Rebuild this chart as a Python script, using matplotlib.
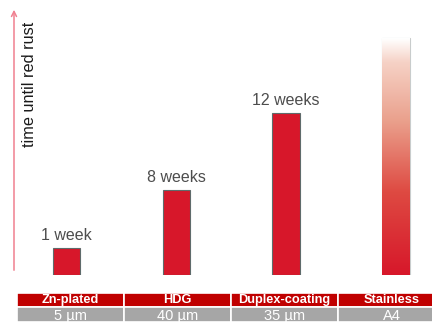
import numpy as np
import matplotlib.pyplot as plt
from matplotlib.patches import Rectangle
from matplotlib.colors import LinearSegmentedColormap

plt.rcParams['font.family'] = ['Liberation Sans', 'DejaVu Sans']

materials = ["Zn-plated", "HDG", "Duplex-coating", "Stainless"]
thickness = ["5 \u00b5m", "40 \u00b5m", "35 \u00b5m", "A4"]
bar_labels = ["1 week", "8 weeks", "12 weeks", ""]
# relative bar heights as drawn (not to scale with weeks)
heights = [27, 85, 162, 237]

red = "#D7172A"
header_red = "#C00000"
row_gray = "#A6A6A6"
text_gray = "#4D4D4D"

fig = plt.figure(figsize=(4.32, 3.22), dpi=100)
W, H = 432, 322

# bar area: baseline 47 px above the bottom edge
ax = fig.add_axes([0, 47 / H, 1, 1 - 47 / H])
ax.axis("off")

x = np.arange(len(materials))
ax.bar(x[:3], heights[:3], width=0.25, color=red, edgecolor="#5F6B6B", linewidth=0.8)
for xi, h, lab in zip(x[:3], heights[:3], bar_labels[:3]):
    ax.text(xi, h + 8, lab, ha="center", va="baseline", fontsize=11.5, color=text_gray)

# stainless: open-ended gradient bar
sb = ax.bar(x[3], heights[3], width=0.25, facecolor="none", edgecolor="#C8CCCC", linewidth=0.8)[0]
cmap = LinearSegmentedColormap.from_list(
    "fade", [(0, red), (0.35, "#DE4A42"), (0.65, "#EAA08C"), (0.9, "#F6D2C6"), (1, "#FFFFFF")])
grad = np.linspace(0, 1, 256).reshape(-1, 1)
im = ax.imshow(grad, cmap=cmap, origin="lower", aspect="auto",
               extent=(x[3] - 0.125, x[3] + 0.125, 0, heights[3]), zorder=1)
im.set_clip_path(sb)
ax.set_xlim(-0.608, 3.33)
ax.set_ylim(0, 275)

# axis arrow
ax.annotate("", xy=(14 / W, 268 / 275), xytext=(14 / W, 2 / 275), xycoords="axes fraction",
            arrowprops=dict(arrowstyle="->", color="#F08090", lw=1.1, mutation_scale=9))
ax.text(30 / W, (275 - 84) / 275, "time until red rust", transform=ax.transAxes, rotation=90,
        ha="center", va="center", fontsize=11.7, color="#1A1A1A")

# table under the bars
tab = fig.add_axes([17 / W, 0, 428 / W, 29.5 / H])
tab.set_xlim(0, 4)
tab.set_ylim(0, 2)
tab.axis("off")
for i, (m, t) in enumerate(zip(materials, thickness)):
    tab.add_patch(Rectangle((i, 1), 1, 1, facecolor=header_red, edgecolor="white", linewidth=1.2))
    tab.add_patch(Rectangle((i, 0), 1, 1, facecolor=row_gray, edgecolor="white", linewidth=1.2))
    tab.text(i + 0.5, 1.47, m, ha="center", va="center", fontsize=9.2, fontweight="bold", color="white")
    tab.text(i + 0.5, 0.42, t, ha="center", va="center", fontsize=10.5, color="white")

fig.savefig("out.png", dpi=100)
